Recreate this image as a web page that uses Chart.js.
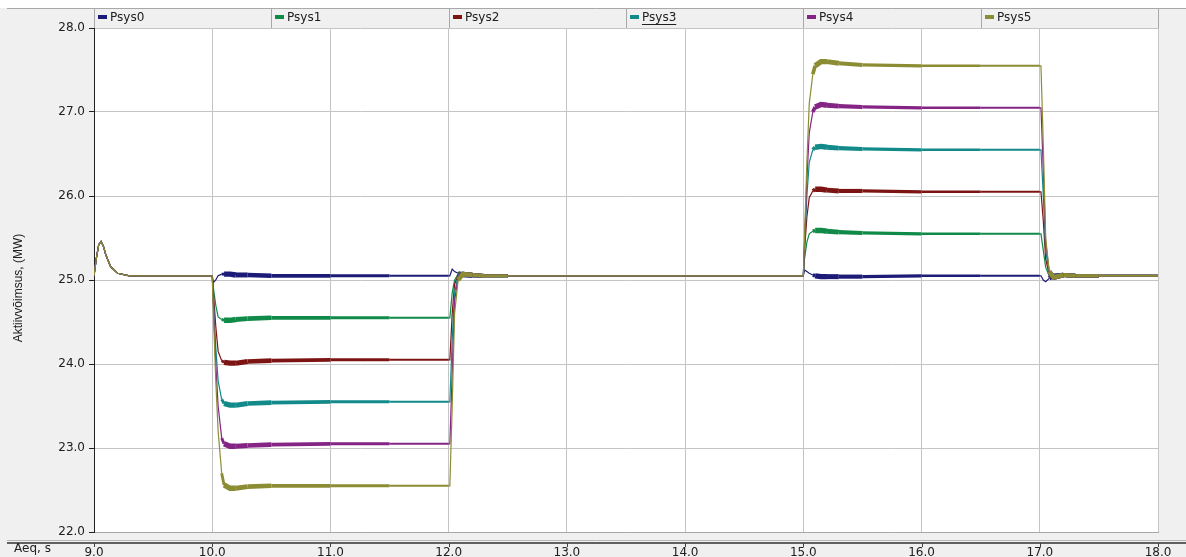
<!DOCTYPE html>
<html>
<head>
<meta charset="utf-8">
<title>Psys</title>
<script src="https://cdn.jsdelivr.net/npm/chart.js@4.4.1/dist/chart.umd.min.js"></script>
<style>
  html, body { margin: 0; padding: 0; background: #f0f0f0; overflow: hidden; }
  canvas { display: block; }
</style>
</head>
<body>
<canvas id="chart" width="1186" height="557"></canvas>
<script>
// time axis, s
const times = [
  9.0, 9.02, 9.04, 9.06, 9.08, 9.1, 9.14, 9.2, 9.3,
  10.0, 10.01, 10.03, 10.05, 10.08, 10.1, 10.15, 10.2, 10.3, 10.5, 11.0, 11.5,
  12.0, 12.01, 12.03, 12.05, 12.08, 12.12, 12.2, 12.3, 12.5, 13.0,
  15.0, 15.01, 15.03, 15.05, 15.08, 15.1, 15.15, 15.2, 15.3, 15.5, 16.0, 16.5,
  17.0, 17.01, 17.03, 17.05, 17.08, 17.12, 17.2, 17.3, 17.5, 18.0
];

// active power, MW
const psys0 = [
  25.05, 25.26, 25.42, 25.46, 25.40, 25.30, 25.16, 25.08, 25.05,
  25.05, 24.97, 25.00, 25.05, 25.07, 25.07, 25.07, 25.06, 25.06, 25.05, 25.05, 25.05,
  25.05, 25.05, 25.13, 25.10, 25.08, 25.06, 25.05, 25.05, 25.05, 25.05,
  25.05, 25.12, 25.10, 25.08, 25.06, 25.05, 25.04, 25.04, 25.04, 25.04, 25.05, 25.05,
  25.05, 25.05, 25.00, 24.98, 25.02, 25.05, 25.06, 25.05, 25.05, 25.05
];
const psys1 = [
  25.05, 25.26, 25.42, 25.46, 25.40, 25.30, 25.16, 25.08, 25.05,
  25.05, 24.90, 24.70, 24.56, 24.53, 24.52, 24.52, 24.53, 24.54, 24.55, 24.55, 24.55,
  24.55, 24.55, 24.85, 25.00, 25.07, 25.07, 25.06, 25.05, 25.05, 25.05,
  25.05, 25.25, 25.45, 25.55, 25.58, 25.59, 25.59, 25.58, 25.57, 25.56, 25.55, 25.55,
  25.55, 25.55, 25.35, 25.15, 25.05, 25.04, 25.06, 25.05, 25.05, 25.05
];
const psys2 = [
  25.05, 25.26, 25.42, 25.46, 25.40, 25.30, 25.16, 25.08, 25.05,
  25.05, 24.85, 24.45, 24.15, 24.04, 24.02, 24.01, 24.01, 24.03, 24.04, 24.05, 24.05,
  24.05, 24.05, 24.60, 24.95, 25.06, 25.07, 25.06, 25.05, 25.05, 25.05,
  25.05, 25.35, 25.75, 25.98, 26.06, 26.08, 26.08, 26.07, 26.06, 26.06, 26.05, 26.05,
  26.05, 26.05, 25.70, 25.25, 25.06, 25.03, 25.06, 25.05, 25.05, 25.05
];
const psys3 = [
  25.05, 25.26, 25.42, 25.46, 25.40, 25.30, 25.16, 25.08, 25.05,
  25.05, 24.75, 24.20, 23.80, 23.58, 23.53, 23.51, 23.51, 23.53, 23.54, 23.55, 23.55,
  23.55, 23.55, 24.30, 24.85, 25.05, 25.07, 25.06, 25.05, 25.05, 25.05,
  25.05, 25.40, 26.00, 26.40, 26.55, 26.58, 26.59, 26.58, 26.57, 26.56, 26.55, 26.55,
  26.55, 26.55, 26.00, 25.35, 25.08, 25.03, 25.06, 25.05, 25.05, 25.05
];
const psys4 = [
  25.05, 25.26, 25.42, 25.46, 25.40, 25.30, 25.16, 25.08, 25.05,
  25.05, 24.70, 24.00, 23.50, 23.12, 23.05, 23.02, 23.02, 23.03, 23.04, 23.05, 23.05,
  23.05, 23.05, 23.90, 24.75, 25.03, 25.07, 25.06, 25.05, 25.05, 25.05,
  25.05, 25.45, 26.20, 26.75, 27.00, 27.06, 27.09, 27.08, 27.07, 27.06, 27.05, 27.05,
  27.05, 27.05, 26.30, 25.45, 25.10, 25.03, 25.06, 25.05, 25.05, 25.05
];
const psys5 = [
  25.05, 25.26, 25.42, 25.46, 25.40, 25.30, 25.16, 25.08, 25.05,
  25.05, 24.60, 23.80, 23.20, 22.70, 22.56, 22.52, 22.52, 22.54, 22.55, 22.55, 22.55,
  22.55, 22.55, 23.50, 24.60, 25.00, 25.07, 25.06, 25.05, 25.05, 25.05,
  25.05, 25.50, 26.40, 27.10, 27.45, 27.55, 27.60, 27.60, 27.58, 27.56, 27.55, 27.55,
  27.55, 27.55, 26.60, 25.50, 25.10, 25.03, 25.06, 25.05, 25.05, 25.05
];

// width of the ringing band after each switching, MW
const ripple = [
  0, 0, 0, 0, 0, 0, 0, 0, 0,
  0, 0, 0, 0, 0.02, 0.05, 0.05, 0.045, 0.04, 0.03, 0.02, 0.01,
  0, 0, 0, 0, 0.04, 0.04, 0.03, 0.02, 0, 0,
  0, 0, 0, 0, 0.03, 0.05, 0.05, 0.045, 0.035, 0.025, 0.015, 0.008,
  0, 0, 0, 0, 0.04, 0.04, 0.035, 0.025, 0.01, 0
];

const seriesNames = ['Psys0', 'Psys1', 'Psys2', 'Psys3', 'Psys4', 'Psys5'];
const seriesColors = ['#1c1c78', '#108a48', '#7c1414', '#128a8a', '#842484', '#8c8c34'];
const seriesValues = [psys0, psys1, psys2, psys3, psys4, psys5];

const xTicks = [9, 10, 11, 12, 13, 14, 15, 16, 17, 18];
const yTicks = [22, 23, 24, 25, 26, 27, 28];

const FONT = '"DejaVu Sans", Verdana, sans-serif';
const TITLE_FONT = 'Arial, "Liberation Sans", sans-serif';
const GRID = '#c4c4c4';

const datasets = seriesNames.map((name, i) => ({
  label: name,
  data: times.map((t, k) => ({ x: t, y: seriesValues[i][k] })),
  borderColor: seriesColors[i],
  backgroundColor: seriesColors[i],
  borderWidth: 1.2,
  pointRadius: 0,
  tension: 0,
  order: seriesNames.length - i,
  segment: {
    borderWidth: ctx => 1.2 + ripple[ctx.p0DataIndex] * 84
  }
}));

// gray frame, legend strip, axis captions and lower time axis
const framePlugin = {
  id: 'frame',
  beforeDraw(chart) {
    const { ctx, chartArea: a, width, height } = chart;
    ctx.save();
    ctx.fillStyle = '#f0f0f0';
    ctx.fillRect(0, 0, width, height);
    ctx.fillStyle = '#ffffff';
    ctx.fillRect(0, 0, width, 8);
    ctx.fillRect(a.left, a.top, a.right - a.left, a.bottom - a.top);
    ctx.restore();
  },
  afterDraw(chart) {
    const { ctx, chartArea: a, width } = chart;
    const xs = chart.scales.x;
    ctx.save();

    // legend strip
    ctx.strokeStyle = '#a8a8a8';
    ctx.lineWidth = 1;
    ctx.beginPath();
    ctx.moveTo(7, 8.5);
    ctx.lineTo(width, 8.5);
    ctx.stroke();
    const cellW = (a.right - a.left) / seriesNames.length;
    ctx.font = '12px ' + FONT;
    ctx.textBaseline = 'middle';
    seriesNames.forEach((name, i) => {
      const x0 = Math.round(a.left + i * cellW);
      ctx.strokeStyle = '#a8a8a8';
      ctx.beginPath();
      ctx.moveTo(x0 + 0.5, 9);
      ctx.lineTo(x0 + 0.5, a.top);
      ctx.stroke();
      ctx.fillStyle = seriesColors[i];
      ctx.fillRect(x0 + 4, 15, 9, 4);
      ctx.fillStyle = '#202020';
      ctx.fillText(name, x0 + 16, 18);
      if (name === 'Psys3') {
        const w = ctx.measureText(name).width;
        ctx.fillRect(x0 + 16, 24, w, 1);
      }
    });
    ctx.strokeStyle = '#a8a8a8';
    ctx.beginPath();
    ctx.moveTo(a.right + 0.5, 9);
    ctx.lineTo(a.right + 0.5, a.top);
    ctx.stroke();

    // time axis line below the plot
    ctx.strokeStyle = '#b8b8b8';
    ctx.beginPath();
    ctx.moveTo(7, 540.5);
    ctx.lineTo(width, 540.5);
    ctx.stroke();
    ctx.strokeStyle = '#606060';
    ctx.lineWidth = 2;
    ctx.beginPath();
    ctx.moveTo(7, 543);
    ctx.lineTo(width, 543);
    ctx.stroke();
    ctx.lineWidth = 1;
    ctx.strokeStyle = '#404040';
    xTicks.forEach(v => {
      const px = Math.round(xs.getPixelForValue(v)) + 0.5;
      ctx.beginPath();
      ctx.moveTo(px, 543);
      ctx.lineTo(px, 547);
      ctx.stroke();
    });

    // captions
    ctx.fillStyle = '#202020';
    ctx.font = '12px ' + FONT;
    ctx.textAlign = 'left';
    ctx.textBaseline = 'middle';
    ctx.fillText('Aeq, s', 14, 549);
    ctx.font = '12px ' + TITLE_FONT;
    ctx.translate(19, 288);
    ctx.rotate(-Math.PI / 2);
    ctx.textAlign = 'center';
    ctx.fillText('Aktiivvõimsus, (MW)', 0, 0);
    ctx.restore();
  }
};

new Chart(document.getElementById('chart').getContext('2d'), {
  type: 'line',
  data: { datasets },
  options: {
    responsive: false,
    animation: false,
    devicePixelRatio: 1,
    layout: { padding: { top: 28, right: 28, left: 0, bottom: 0 } },
    plugins: {
      legend: { display: false },
      tooltip: { enabled: false }
    },
    scales: {
      x: {
        type: 'linear',
        min: 9,
        max: 18,
        afterFit: s => { s.height = 25; },
        afterBuildTicks: s => { s.ticks = xTicks.map(v => ({ value: v })); },
        ticks: {
          padding: 14,
          maxRotation: 0,
          color: '#202020',
          font: { size: 12, family: FONT },
          callback: v => v.toFixed(1)
        },
        grid: { color: GRID, drawTicks: false },
        border: { color: '#a8a8a8' }
      },
      y: {
        min: 22,
        max: 28,
        afterFit: s => { s.width = 94; },
        afterBuildTicks: s => { s.ticks = yTicks.map(v => ({ value: v })); },
        ticks: {
          padding: 4,
          color: '#202020',
          font: { size: 12, family: FONT },
          callback: v => v.toFixed(1)
        },
        grid: { color: GRID, tickLength: 5, tickColor: '#202020' },
        border: { color: '#202020' }
      }
    }
  },
  plugins: [framePlugin]
});
</script>
</body>
</html>
